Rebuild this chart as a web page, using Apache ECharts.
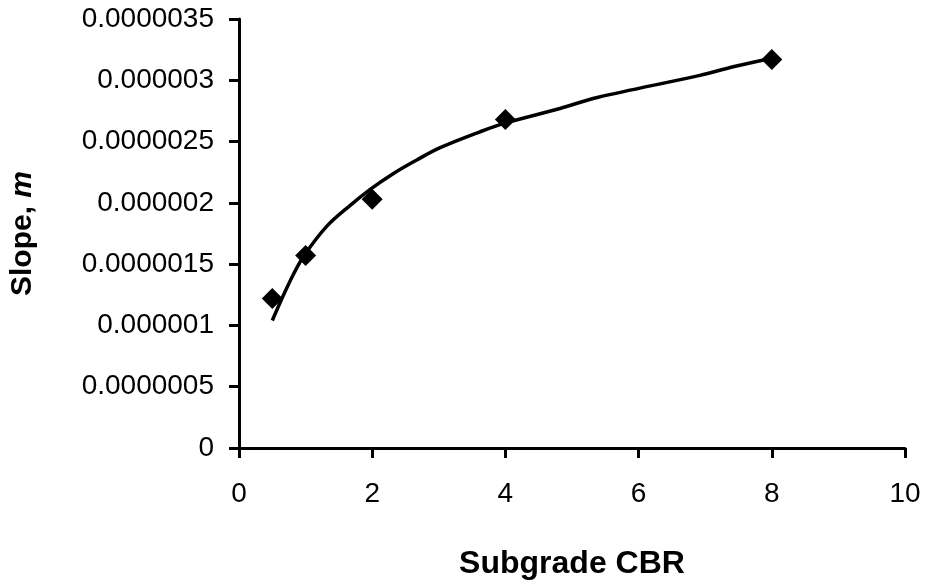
<!DOCTYPE html>
<html>
<head>
<meta charset="utf-8">
<script src="https://cdn.jsdelivr.net/npm/echarts@6/dist/echarts.min.js"></script>
<style>
html,body{margin:0;padding:0;background:#fff;}
#chart{width:925px;height:585px;}
</style>
</head>
<body>
<div id="chart"></div>
<script>
// Measured data points (Subgrade CBR vs slope m)
var cbrValues = [0.5, 1, 2, 4, 8];
var slopeValues = [1.22e-6, 1.57e-6, 2.03e-6, 2.68e-6, 3.17e-6];

// Trend curve
var trendX = [0.5, 0.67, 0.82, 0.99, 1.32, 1.67, 1.97, 2.32, 2.67, 3.02, 3.62, 3.99, 4.82, 5.38, 6.92, 7.42, 8.0];
var trendY = [1.04e-6, 1.25e-6, 1.42e-6, 1.58e-6, 1.81e-6, 1.98e-6, 2.11e-6, 2.24e-6, 2.35e-6, 2.45e-6, 2.58e-6, 2.65e-6, 2.77e-6, 2.86e-6, 3.04e-6, 3.11e-6, 3.18e-6];

// Axis tick labels
var xTickLabels = ['0', '2', '4', '6', '8', '10'];
var yTickLabels = ['0', '0.0000005', '0.000001', '0.0000015', '0.000002', '0.0000025', '0.000003', '0.0000035'];

var FONT = "'Liberation Sans', Arial, sans-serif";
var yInterval = 0.0000005;

var chart = echarts.init(document.getElementById('chart'), null, {renderer: 'canvas'});
chart.setOption({
  animation: false,
  backgroundColor: '#fff',
  grid: {left: 239, right: 20, top: 19, bottom: 132, containLabel: false},
  xAxis: {
    type: 'value', min: 0, max: 10, interval: 2,
    name: 'Subgrade CBR', nameLocation: 'middle', nameGap: 100,
    nameTextStyle: {fontFamily: FONT, fontSize: 32, fontWeight: 'bold', color: '#000'},
    axisLine: {show: true, onZero: false, lineStyle: {color: '#000', width: 3}},
    axisTick: {show: true, inside: false, length: 10, lineStyle: {color: '#000', width: 3}},
    splitLine: {show: false},
    axisLabel: {
      fontFamily: FONT, fontSize: 28, color: '#000', margin: 32,
      formatter: function (v) { return xTickLabels[Math.round(v / 2)]; }
    }
  },
  yAxis: {
    type: 'value', min: 0, max: 0.0000035, interval: yInterval,
    name: '{a|Slope, }{b|m}', nameLocation: 'middle', nameGap: 201, nameRotate: 90,
    nameTextStyle: {
      fontFamily: FONT, fontSize: 30, fontWeight: 'bold', color: '#000',
      rich: {
        a: {fontFamily: FONT, fontSize: 30, fontWeight: 'bold', color: '#000'},
        b: {fontFamily: FONT, fontSize: 30, fontWeight: 'bold', fontStyle: 'italic', color: '#000'}
      }
    },
    axisLine: {show: true, onZero: false, lineStyle: {color: '#000', width: 3}},
    axisTick: {show: true, inside: false, length: 10, lineStyle: {color: '#000', width: 3}},
    splitLine: {show: false},
    axisLabel: {
      fontFamily: FONT, fontSize: 28, color: '#000', margin: 25, padding: [3, 0, 0, 0],
      formatter: function (v) { return yTickLabels[Math.round(v / yInterval)]; }
    }
  },
  series: [
    {
      type: 'scatter',
      data: cbrValues.map(function (x, i) { return [x, slopeValues[i]]; }),
      symbol: 'diamond', symbolSize: 21,
      itemStyle: {color: '#000', opacity: 1},
      z: 2
    },
    {
      type: 'line',
      data: trendX.map(function (x, i) { return [x, trendY[i]]; }),
      smooth: 0.35, showSymbol: false, symbol: 'none',
      lineStyle: {color: '#000', width: 3.5},
      z: 3
    }
  ]
});
</script>
</body>
</html>
